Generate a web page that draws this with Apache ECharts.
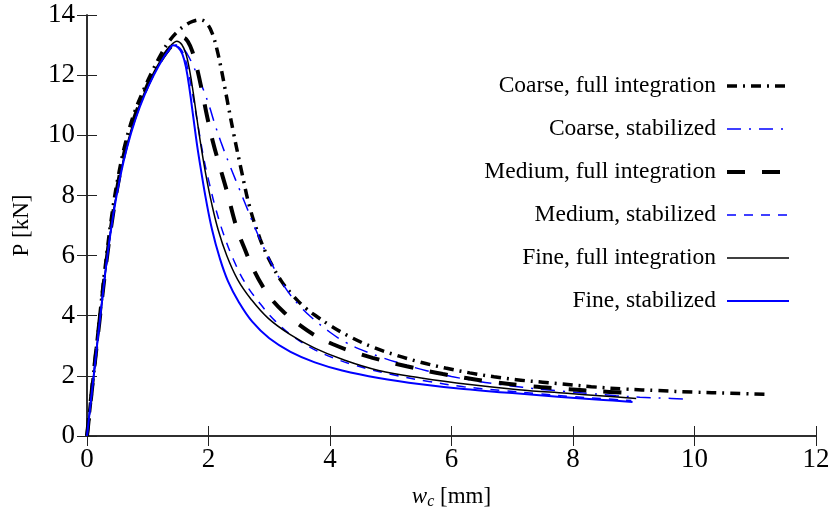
<!DOCTYPE html>
<html>
<head>
<meta charset="utf-8">
<script src="https://cdn.jsdelivr.net/npm/echarts@6/dist/echarts.min.js"></script>
<style>
html,body{margin:0;padding:0;background:#fff;}
#chart{width:836px;height:515px;}
</style>
</head>
<body>
<div id="chart"></div>
<script>
// Tick labels
const xTicks = [0, 2, 4, 6, 8, 10, 12];
const yTicks = [0, 2, 4, 6, 8, 10, 12, 14];

// Legend names
const seriesNames = [
  'Coarse, full integration',
  'Coarse, stabilized',
  'Medium, full integration',
  'Medium, stabilized',
  'Fine, full integration',
  'Fine, stabilized'
];

// Data: [w_c (mm), P (kN)]
const coarseFull = [[0,0],[0.1,1.9],[0.2,3.8],[0.31,5.8],[0.42,7.5],[0.53,8.8],[0.64,9.8],[0.78,10.75],[0.93,11.5],[1.08,12.15],[1.22,12.7],[1.36,13.15],[1.5,13.47],[1.62,13.66],[1.74,13.79],[1.86,13.84],[1.97,13.72],[2.06,13.4],[2.14,12.85],[2.22,12.1],[2.3,11.25],[2.41,10.1],[2.55,8.75],[2.68,7.6],[2.85,6.55],[3.01,5.82],[3.2,5.15],[3.4,4.65],[3.6,4.25],[3.8,3.95],[4.0,3.68],[4.3,3.33],[4.71,2.95],[5.1,2.68],[5.48,2.46],[5.9,2.26],[6.3,2.1],[6.7,1.97],[7.07,1.87],[7.5,1.79],[7.83,1.73],[8.3,1.64],[8.87,1.56],[9.4,1.51],[9.97,1.46],[10.6,1.42],[11.23,1.38]];

const coarseStab = [[0,0],[0.11,2.0],[0.22,4.0],[0.33,5.9],[0.44,7.5],[0.55,8.7],[0.66,9.65],[0.8,10.6],[0.95,11.4],[1.1,12.05],[1.25,12.55],[1.37,12.85],[1.47,13.0],[1.56,12.93],[1.65,12.7],[1.75,12.3],[1.87,11.75],[2.0,11.05],[2.1,10.4],[2.2,9.8],[2.35,9.0],[2.5,8.25],[2.63,7.6],[2.76,6.95],[2.9,6.3],[3.1,5.5],[3.29,4.85],[3.5,4.33],[3.72,3.9],[4.0,3.45],[4.25,3.12],[4.5,2.88],[4.8,2.65],[5.1,2.45],[5.59,2.17],[6.0,1.98],[6.41,1.83],[6.8,1.71],[7.17,1.62],[7.5,1.55],[7.83,1.49],[8.3,1.41],[8.71,1.34],[9.1,1.29],[9.5,1.26],[9.86,1.23]];

const mediumFull = [[0,0],[0.1,1.9],[0.21,3.9],[0.32,5.8],[0.43,7.4],[0.54,8.7],[0.65,9.7],[0.8,10.7],[0.95,11.45],[1.1,12.1],[1.25,12.6],[1.4,13.0],[1.5,13.2],[1.58,13.25],[1.66,13.12],[1.74,12.75],[1.82,12.15],[1.9,11.4],[1.98,10.6],[2.07,9.8],[2.18,9.0],[2.3,8.16],[2.46,6.95],[2.6,6.2],[2.75,5.5],[2.9,4.95],[3.05,4.52],[3.25,4.1],[3.48,3.72],[3.75,3.35],[4.05,3.05],[4.35,2.82],[4.7,2.6],[5.26,2.32],[5.86,2.06],[6.52,1.84],[7.17,1.68],[7.83,1.57],[8.4,1.49],[9.02,1.42]];

const mediumStab = [[0,0],[0.11,2.0],[0.22,4.0],[0.33,5.9],[0.44,7.5],[0.55,8.7],[0.66,9.65],[0.8,10.6],[0.95,11.4],[1.1,12.05],[1.25,12.55],[1.36,12.85],[1.45,12.97],[1.55,12.85],[1.63,12.45],[1.7,11.8],[1.77,11.0],[1.85,10.05],[1.93,9.15],[2.02,8.35],[2.12,7.55],[2.25,6.7],[2.41,5.87],[2.6,5.1],[2.85,4.4],[3.1,3.82],[3.4,3.3],[3.72,2.9],[4.05,2.6],[4.4,2.36],[5.0,2.05],[5.6,1.82],[6.2,1.64],[6.8,1.52],[7.4,1.41],[8.0,1.31],[8.5,1.24],[8.96,1.18]];

const fineFull = [[0,0],[0.11,2.0],[0.22,4.0],[0.33,5.9],[0.44,7.5],[0.55,8.7],[0.66,9.7],[0.8,10.65],[0.95,11.45],[1.1,12.1],[1.26,12.65],[1.38,12.98],[1.48,13.13],[1.56,13.02],[1.63,12.7],[1.69,12.15],[1.75,11.4],[1.81,10.55],[1.88,9.6],[1.96,8.65],[2.05,7.75],[2.16,6.85],[2.3,6.0],[2.48,5.2],[2.7,4.55],[2.98,3.92],[3.34,3.38],[3.75,2.92],[4.2,2.55],[4.8,2.18],[5.5,1.93],[6.3,1.71],[7.1,1.54],[7.9,1.42],[8.5,1.33],[9.04,1.25]];

const fineStab = [[0,0],[0.11,2.0],[0.22,4.0],[0.33,5.9],[0.44,7.45],[0.55,8.65],[0.66,9.6],[0.8,10.55],[0.95,11.35],[1.1,12.0],[1.25,12.55],[1.35,12.85],[1.42,12.99],[1.5,12.92],[1.57,12.7],[1.63,12.25],[1.69,11.5],[1.75,10.6],[1.81,9.7],[1.88,8.8],[1.96,7.85],[2.06,6.85],[2.18,5.95],[2.32,5.15],[2.5,4.45],[2.72,3.8],[3.0,3.25],[3.35,2.8],[3.75,2.45],[4.2,2.18],[4.8,1.93],[5.5,1.72],[6.2,1.56],[7.0,1.43],[7.8,1.3],[8.5,1.2],[8.98,1.13]];

const FONT = '"Liberation Serif", "Times New Roman", serif';

const chart = echarts.init(document.getElementById('chart'), null, {renderer: 'canvas'});

function mkSeries(name, data, color, width, dash) {
  return {
    name: name,
    type: 'line',
    data: data,
    symbol: 'none',
    smooth: 0.4,
    animation: false,
    lineStyle: {color: color, width: width, type: dash, cap: 'butt'},
    itemStyle: {color: color}
  };
}

const axisCommon = {
  type: 'value',
  axisLine: {show: true, lineStyle: {color: '#222', width: 1.5}},
  axisTick: {show: true, inside: true, length: 10, lineStyle: {color: '#222', width: 1}},
  splitLine: {show: false}
};

const option = {
  backgroundColor: '#fff',
  animation: false,
  grid: {left: 87, right: 20, top: 15, bottom: 72},
  legend: {
    orient: 'vertical',
    align: 'right',
    right: 45,
    top: 74,
    padding: 0,
    itemWidth: 62,
    itemHeight: 14,
    itemGap: 19,
    data: seriesNames,
    itemStyle: {opacity: 0},
    lineStyle: {width: 'inherit', type: 'inherit', color: 'inherit'},
    textStyle: {fontFamily: FONT, fontSize: 23.5, color: '#000', lineHeight: 24, padding: [0, 6, 0, 0]}
  },
  xAxis: [
    Object.assign({}, axisCommon, {
      min: xTicks[0], max: xTicks[xTicks.length - 1], interval: 2,
      position: 'bottom',
      axisLabel: {fontFamily: FONT, fontSize: 27, color: '#000', margin: 10},
      name: '{i|w}{s|c} [mm]',
      nameLocation: 'middle',
      nameGap: 48,
      nameTextStyle: {
        fontFamily: FONT, fontSize: 23, color: '#000',
        rich: {
          i: {fontFamily: FONT, fontSize: 23, fontStyle: 'italic', color: '#000'},
          s: {fontFamily: FONT, fontSize: 16, fontStyle: 'italic', color: '#000', padding: [10, 0, 0, 0]}
        }
      }
    }),
    Object.assign({}, axisCommon, {
      min: xTicks[0], max: xTicks[xTicks.length - 1], interval: 2,
      position: 'top',
      axisLabel: {show: false}
    })
  ],
  yAxis: [
    Object.assign({}, axisCommon, {
      min: yTicks[0], max: yTicks[yTicks.length - 1], interval: 2,
      position: 'left',
      axisLabel: {fontFamily: FONT, fontSize: 27, color: '#000', margin: 12},
      name: 'P [kN]',
      nameLocation: 'middle',
      nameGap: 54,
      nameRotate: 90,
      nameTextStyle: {fontFamily: FONT, fontSize: 23, color: '#000'}
    }),
    Object.assign({}, axisCommon, {
      min: yTicks[0], max: yTicks[yTicks.length - 1], interval: 2,
      position: 'right',
      axisLabel: {show: false}
    })
  ],
  series: [
    mkSeries(seriesNames[0], coarseFull, '#000000', 3.5, [10, 6, 2, 6]),
    mkSeries(seriesNames[1], coarseStab, '#0000ff', 1.5, [14, 8, 2, 8]),
    mkSeries(seriesNames[2], mediumFull, '#000000', 4, [18, 17]),
    mkSeries(seriesNames[3], mediumStab, '#0000ff', 1.5, [9, 8]),
    mkSeries(seriesNames[4], fineFull, '#000000', 1.5, 'solid'),
    mkSeries(seriesNames[5], fineStab, '#0000ff', 2, 'solid')
  ]
};

chart.setOption(option);
</script>
</body>
</html>
